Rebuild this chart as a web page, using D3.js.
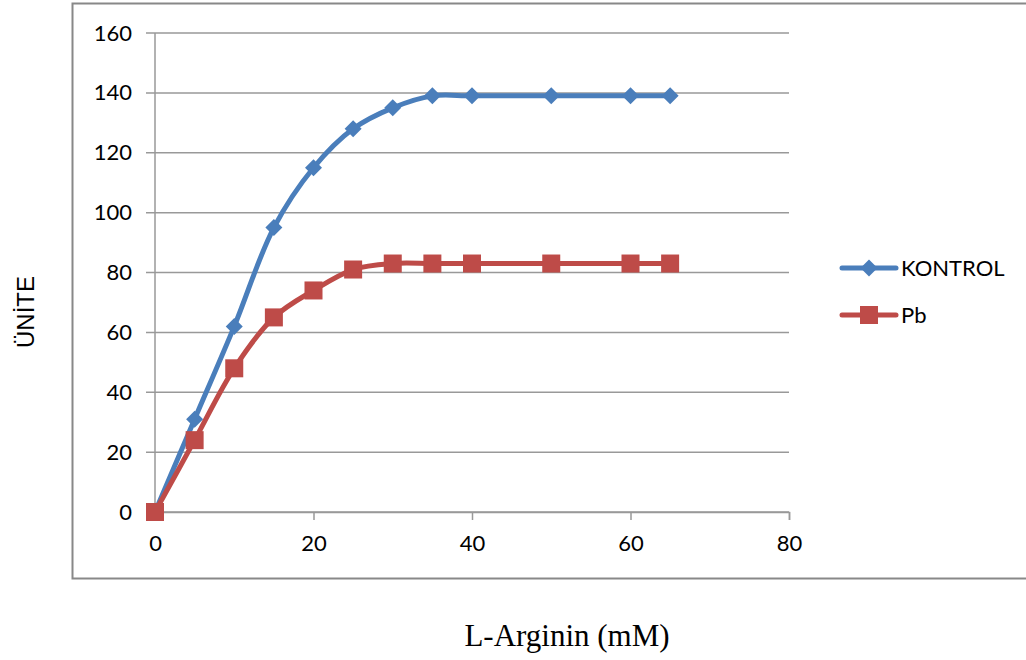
<!DOCTYPE html>
<html>
<head>
<script src="https://d3js.org/d3.v7.min.js"></script>
<style>
  body { margin: 0; background: #fff; }
  .tick text { font-family: Lato, "Open Sans", sans-serif; font-size: 22px; fill: #000; }
</style>
</head>
<body>
<div id="chart"></div>
<script>
const width = 1026
const height = 660

const xValues = [0, 5, 10, 15, 20, 25, 30, 35, 40, 50, 60, 65]
const kontrol = [0, 31, 62, 95, 115, 128, 135, 139, 139, 139, 139, 139]
const pb = [0, 24, 48, 65, 74, 81, 83, 83, 83, 83, 83, 83]
const seriesNames = ["KONTROL", "Pb"]
const xTicks = [0, 20, 40, 60, 80]
const yTicks = [0, 20, 40, 60, 80, 100, 120, 140, 160]

const blue = "#4a7ebb"
const red = "#be4b48"
const grid = "#999"

const plot = { left: 155, right: 789, top: 33, bottom: 512 }

const svg = d3.select("#chart").append("svg")
    .attr("width", width)
    .attr("height", height)

// outer frame
svg.append("rect")
    .attr("x", 72.5).attr("y", 3.5)
    .attr("width", 960).attr("height", 575)
    .attr("fill", "none")
    .attr("stroke", "#888")
    .attr("stroke-width", 2)

const xScale = d3.scaleLinear().domain([0, 80]).range([plot.left, plot.right])
const yScale = d3.scaleLinear().domain([0, 160]).range([plot.bottom, plot.top])

// gridlines
svg.append("g")
    .selectAll("line")
    .data(yTicks)
    .enter()
    .append("line")
    .attr("x1", plot.left - 9)
    .attr("x2", plot.right)
    .attr("y1", d => yScale(d))
    .attr("y2", d => yScale(d))
    .attr("stroke", grid)
    .attr("stroke-width", 1.5)

const yAxis = d3.axisLeft(yScale).tickValues(yTicks).tickSize(9).tickPadding(14)
svg.append("g")
    .attr("transform", "translate(" + plot.left + ",0)")
    .call(yAxis)
    .call(g => g.select(".domain").remove())
    .call(g => g.selectAll(".tick line").remove())

svg.append("line")
    .attr("x1", plot.left).attr("x2", plot.left)
    .attr("y1", plot.top).attr("y2", plot.bottom)
    .attr("stroke", grid).attr("stroke-width", 1.5)

const xAxis = d3.axisBottom(xScale).tickValues(xTicks).tickSize(8).tickPadding(15)
svg.append("g")
    .attr("transform", "translate(0," + plot.bottom + ")")
    .call(xAxis)
    .call(g => g.select(".domain").attr("stroke", grid).attr("stroke-width", 1.5))
    .call(g => g.selectAll(".tick line").attr("stroke", grid).attr("stroke-width", 1.5))

const line = d3.line()
    .x(d => xScale(d[0]))
    .y(d => yScale(d[1]))
    .curve(d3.curveCatmullRom.alpha(0.5))

const series = [
    { name: seriesNames[0], values: kontrol, color: blue },
    { name: seriesNames[1], values: pb, color: red }
]

series.forEach(s => {
    const pts = xValues.map((x, i) => [x, s.values[i]])
    svg.append("path")
        .datum(pts)
        .attr("d", line)
        .attr("fill", "none")
        .attr("stroke", s.color)
        .attr("stroke-width", 5)
        .attr("stroke-linejoin", "round")
})

const diamond = (cx, cy, r) => "M" + cx + "," + (cy - r) + "L" + (cx + r) + "," + cy + "L" + cx + "," + (cy + r) + "L" + (cx - r) + "," + cy + "Z"

series.forEach(s => {
    const g = svg.append("g")
    xValues.forEach((x, i) => {
        const cx = xScale(x), cy = yScale(s.values[i])
        if (s.name === "KONTROL") {
            g.append("path").attr("d", diamond(cx, cy, 8.5)).attr("fill", s.color)
        } else {
            g.append("rect").attr("x", cx - 9).attr("y", cy - 9).attr("width", 18).attr("height", 18).attr("fill", s.color)
        }
    })
})

// legend
const legend = svg.append("g").attr("transform", "translate(840,268)")
series.forEach((s, i) => {
    const row = legend.append("g").attr("transform", "translate(0," + (i * 47) + ")")
    row.append("line")
        .attr("x1", 2).attr("x2", 56)
        .attr("stroke", s.color).attr("stroke-width", 5).attr("stroke-linecap", "round")
    if (i === 0) {
        row.append("path").attr("d", diamond(29, 0, 8.5)).attr("fill", s.color)
    } else {
        row.append("rect").attr("x", 20).attr("y", -9).attr("width", 18).attr("height", 18).attr("fill", s.color)
    }
    row.append("text")
        .attr("x", 61).attr("y", 8)
        .attr("font-family", "Lato, 'Open Sans', sans-serif")
        .attr("font-size", 22)
        .text(s.name)
})

// axis titles
svg.append("text")
    .attr("x", 567).attr("y", 646)
    .attr("text-anchor", "middle")
    .attr("font-family", "'Liberation Serif', serif")
    .attr("font-size", 31)
    .text("L-Arginin (mM)")

svg.append("text")
    .attr("transform", "translate(34,312) rotate(-90)")
    .attr("text-anchor", "middle")
    .attr("font-family", "'Liberation Sans', Arial, sans-serif")
    .attr("font-size", 24)
    .text("ÜNİTE")
</script>
</body>
</html>
